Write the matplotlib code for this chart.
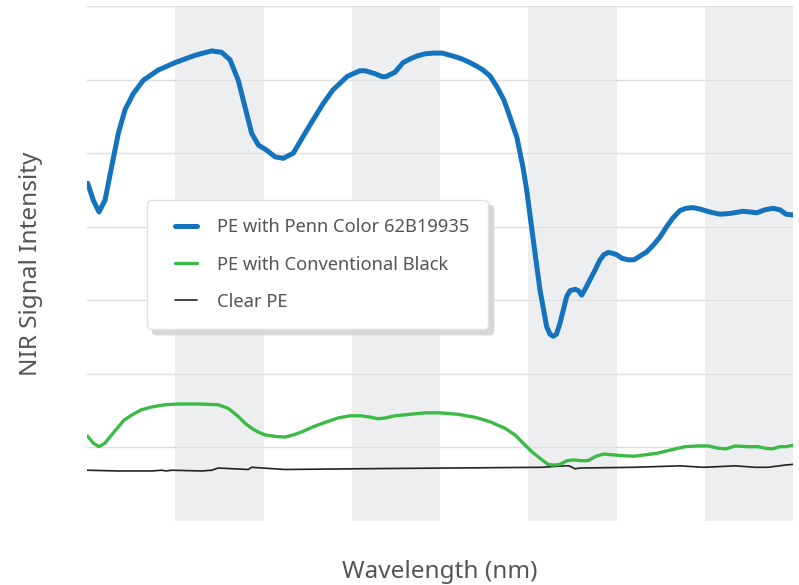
import matplotlib.pyplot as plt
from matplotlib.lines import Line2D
from matplotlib.legend_handler import HandlerLine2D

plt.rcParams['font.family'] = ['Noto Sans', 'DejaVu Sans']

# wavelength (nm) and relative signal
penn_x = [900.8, 907.1, 913.6, 920.4, 928.0, 935.5, 943.1, 952.5, 963.8, 980.8,
          999.7, 1022.4, 1041.3, 1052.6, 1062.0, 1071.4, 1079.0, 1086.6, 1094.1, 1103.6,
          1113.0, 1122.4, 1133.8, 1147.0, 1156.1, 1167.4, 1178.7, 1186.7, 1194.6, 1201.5,
          1209.3, 1215.0, 1226.4, 1234.3, 1238.8, 1249.0, 1258.1, 1266.0, 1273.9, 1283.0,
          1292.1, 1302.3, 1314.7, 1325.0, 1334.0, 1341.9, 1348.7, 1356.6, 1364.6, 1372.5,
          1379.3, 1387.2, 1394.0, 1398.2, 1405.7, 1413.3, 1420.9, 1424.6, 1428.4, 1432.0,
          1436.0, 1443.5, 1447.3, 1453.0, 1457.0, 1460.6, 1464.4, 1470.0, 1475.7, 1481.3,
          1485.8, 1490.7, 1494.9, 1500.2, 1506.2, 1513.4, 1519.8, 1526.6, 1534.5, 1541.7,
          1549.3, 1556.8, 1564.0, 1572.0, 1578.7, 1586.7, 1594.5, 1605.9, 1617.3, 1628.6,
          1643.3, 1651.3, 1659.2, 1668.2, 1677.3, 1685.2, 1692.0, 1700.0]
penn_y = [4.59, 4.36, 4.20, 4.36, 4.82, 5.27, 5.59, 5.81, 5.99, 6.13,
          6.23, 6.33, 6.39, 6.37, 6.27, 5.99, 5.63, 5.27, 5.11, 5.04,
          4.95, 4.93, 5.00, 5.27, 5.45, 5.67, 5.86, 5.95, 6.04, 6.08,
          6.12, 6.12, 6.08, 6.04, 6.04, 6.10, 6.23, 6.28, 6.32, 6.35,
          6.36, 6.36, 6.32, 6.28, 6.23, 6.18, 6.13, 6.05, 5.90, 5.72,
          5.49, 5.21, 4.81, 4.50, 3.82, 3.14, 2.64, 2.54, 2.51, 2.54,
          2.69, 3.05, 3.13, 3.15, 3.13, 3.07, 3.15, 3.28, 3.41, 3.55,
          3.62, 3.65, 3.64, 3.62, 3.57, 3.55, 3.55, 3.60, 3.66, 3.75,
          3.86, 4.00, 4.12, 4.22, 4.25, 4.26, 4.24, 4.20, 4.17, 4.18,
          4.21, 4.20, 4.19, 4.23, 4.25, 4.23, 4.17, 4.16]

black_x = [900.8, 907.1, 913.6, 920.4, 927.2, 935.5, 941.9, 950.6, 961.2, 973.3,
           988.4, 1003.5, 1028.0, 1048.8, 1060.1, 1065.4, 1071.4, 1079.0, 1086.6, 1093.8,
           1101.7, 1113.0, 1124.4, 1133.4, 1143.3, 1156.1, 1169.7, 1184.4, 1198.0, 1210.5,
           1221.8, 1229.7, 1237.7, 1249.0, 1266.0, 1283.0, 1300.0, 1320.4, 1339.6, 1356.6,
           1373.6, 1385.0, 1394.0, 1404.2, 1415.6, 1422.4, 1429.2, 1436.0, 1443.9, 1451.8,
           1459.7, 1467.7, 1476.7, 1485.8, 1503.9, 1519.8, 1545.9, 1562.9, 1577.6, 1591.2,
           1603.7, 1615.0, 1624.1, 1634.3, 1649.0, 1660.3, 1668.2, 1676.2, 1685.2, 1692.1,
           1700.0]
black_y = [1.15, 1.06, 1.01, 1.06, 1.16, 1.28, 1.37, 1.44, 1.51, 1.55,
           1.58, 1.59, 1.59, 1.58, 1.53, 1.48, 1.42, 1.33, 1.26, 1.21,
           1.17, 1.15, 1.14, 1.17, 1.21, 1.28, 1.34, 1.40, 1.43, 1.43,
           1.41, 1.39, 1.40, 1.43, 1.45, 1.47, 1.47, 1.45, 1.41, 1.35,
           1.26, 1.17, 1.06, 0.94, 0.83, 0.77, 0.76, 0.77, 0.82, 0.83,
           0.82, 0.82, 0.88, 0.91, 0.89, 0.88, 0.92, 0.97, 1.01, 1.02,
           1.02, 0.99, 0.98, 1.02, 1.01, 1.01, 0.99, 0.98, 1.01, 1.01,
           1.03]

clear_x = [900.8, 935.1, 973.3, 984.6, 989.5, 996.0, 1030.0, 1041.3, 1048.8, 1082.8,
           1086.6, 1124.4, 1205.9, 1310.2, 1415.6, 1441.6, 1446.2, 1452.9, 1458.6, 1519.8,
           1572.0, 1598.0, 1617.3, 1634.3, 1657.0, 1671.7, 1690.9, 1700.0]
clear_y = [0.69, 0.68, 0.68, 0.69, 0.68, 0.69, 0.68, 0.69, 0.72, 0.70,
           0.73, 0.70, 0.71, 0.72, 0.73, 0.75, 0.75, 0.71, 0.72, 0.73,
           0.75, 0.73, 0.74, 0.75, 0.73, 0.73, 0.76, 0.77]

bands = [(1000, 1100), (1200, 1300), (1400, 1500), (1600, 1700)]
grid_levels = [1, 2, 3, 4, 5, 6, 7]

fig = plt.figure(figsize=(7.99, 5.85), dpi=100)
ax = fig.add_axes([87 / 799, 64 / 585, 706 / 799, 515 / 585])

for lo, hi in bands:
    ax.axvspan(lo, hi, color='#edeef0', lw=0, zorder=0)
for lev in grid_levels:
    ax.axhline(lev, color='#dedfe1', lw=1, zorder=1)

ax.plot(clear_x, clear_y, color='#222222', lw=1.2, label='Clear PE', zorder=3)
ax.plot(black_x, black_y, color='#3cba46', lw=2.4, label='PE with Conventional Black',
        solid_joinstyle='round', zorder=3)
ax.plot(penn_x, penn_y, color='#1473bd', lw=3.6, label='PE with Penn Color 62B19935',
        solid_joinstyle='round', solid_capstyle='round', zorder=4)

ax.set_xlim(900, 1700)
ax.set_ylim(0, 7)
ax.set_xticks([])
ax.set_yticks([])
for s in ax.spines.values():
    s.set_visible(False)

handles, labels = ax.get_legend_handles_labels()
order = [2, 1, 0]
leg = ax.legend([handles[i] for i in order], [labels[i] for i in order],
                loc='upper left', bbox_to_anchor=(147 / 799, 1 - 200 / 585),
                bbox_transform=fig.transFigure, borderaxespad=0,
                fontsize=13.2, frameon=True, fancybox=True, borderpad=1.0,
                labelspacing=1.05, handlelength=1.75, handletextpad=1.08,
                handler_map={Line2D: HandlerLine2D(xpad=0.55)},
                labelcolor='#555555',
                shadow={'color': '#d6d7d9', 'alpha': 1, 'ox': 4, 'oy': -4})
frame = leg.get_frame()
frame.set_edgecolor('#e2e2e2')
frame.set_facecolor('white')
frame.set_alpha(1)
for line in leg.get_lines():
    line.set_solid_capstyle('round')
leg.set_zorder(10)

ax.set_ylabel('NIR Signal Intensity', fontsize=17.5, color='#555555', labelpad=32)
ax.set_xlabel('Wavelength (nm)', fontsize=17.5, color='#555555', labelpad=28)

fig.savefig('out.png', dpi=100)
